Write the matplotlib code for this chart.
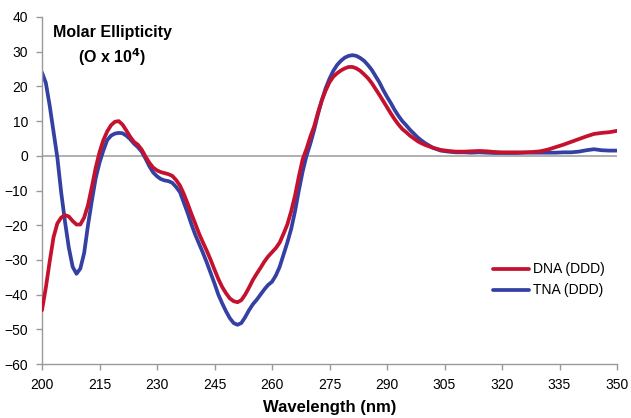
import matplotlib
matplotlib.use("Agg")
import matplotlib.pyplot as plt
import numpy as np

plt.rcParams['font.family'] = ['Liberation Sans', 'DejaVu Sans']

wl_fine = list(range(200, 301))
wl_tail = list(range(302, 351, 2))
wavelength = wl_fine + wl_tail

dna_fine = [-44.5, -38, -30.5, -23.5, -19.5, -17.8, -17.1, -17.5, -18.8, -19.8,
            -19.8, -17.8, -14.2, -9, -3.5, 1, 4.5, 7, 8.8, 9.8,
            10, 9, 7.3, 5.5, 4, 3.2, 1.8, -0.2, -2, -3.4,
            -4.2, -4.7, -5, -5.3, -5.8, -7, -8.6, -11, -13.8, -16.8,
            -19.6, -22.5, -25, -27.4, -30, -32.8, -35.5, -37.8, -39.6, -41.1,
            -41.9, -42.2, -41.6, -40, -38, -35.8, -34, -32.3, -30.5, -29,
            -27.8, -26.6, -25, -22.5, -19.8, -16, -11.5, -6, -1, 2,
            5.5, 8.5, 12.5, 16, 18.8, 21.2, 22.8, 23.8, 24.6, 25.2,
            25.6, 25.6, 25.2, 24.5, 23.5, 22.4, 21, 19.3, 17.6, 15.8,
            14, 12.2, 10.5, 9, 7.7, 6.8, 5.8, 5, 4.2, 3.6,
            3.1]
dna_tail = [2.3, 1.7, 1.4, 1.2, 1.2, 1.3, 1.4, 1.3, 1.1, 1.0,
            1.0, 1.0, 1.0, 1.1, 1.3, 1.8, 2.5, 3.2, 4.0, 4.8,
            5.6, 6.3, 6.6, 6.8, 7.2]
dna = dna_fine + dna_tail

tna_fine = [24, 21, 14.5, 7, -0.5, -10.5, -19, -26.5, -32, -34,
            -32.5, -28, -20, -13, -6.5, -2, 1.5, 4.5, 5.8, 6.4,
            6.6, 6.5, 5.8, 4.8, 3.5, 2.5, 1.2, -0.8, -3, -4.8,
            -5.9, -6.7, -7.1, -7.3, -7.8, -9, -10.5, -13.5, -16.5, -19.8,
            -22.8, -25.4, -28, -30.8, -33.8, -36.8, -40, -42.5, -44.8, -46.8,
            -48.2, -48.7, -48.2, -46.5, -44.5, -42.8, -41.5, -40, -38.5, -37.2,
            -36.3, -34.5, -32, -28.5, -25, -21.1, -16, -10, -4.5, 0,
            3.5, 7.5, 12, 16, 19.5, 22.2, 24.5, 26.2, 27.4, 28.3,
            28.8, 29, 28.8, 28.2, 27.4, 26.2, 24.8, 23, 21.2, 19,
            17, 15.2, 13.2, 11.5, 10, 8.8, 7.5, 6.4, 5.3, 4.4,
            3.6]
tna_tail = [2.3, 1.5, 1.2, 1.0, 1.0, 0.9, 1.0, 0.9, 0.8, 0.8,
            0.8, 0.8, 0.9, 0.9, 0.9, 0.9, 0.9, 1.0, 1.0, 1.2,
            1.6, 1.9, 1.6, 1.5, 1.5]
tna = tna_fine + tna_tail

xticks = list(range(200, 351, 15))
yticks = list(range(-60, 41, 10))

fig = plt.figure(figsize=(6.31, 4.18), dpi=100)
ax = fig.add_axes([42/631, 1-364/418, (617-42)/631, (364-17)/418])

ax.axhline(0, color='#aaaaaa', lw=1.3, zorder=1)
ax.plot(wavelength, dna, color='#c4122e', lw=2.7, label='DNA (DDD)', zorder=3,
        solid_joinstyle='round', solid_capstyle='round')
ax.plot(wavelength, tna, color='#3441a3', lw=2.7, label='TNA (DDD)', zorder=2,
        solid_joinstyle='round', solid_capstyle='round')

ax.set_xlim(200, 350)
ax.set_ylim(-60, 40)
ax.set_xticks(xticks)
ax.set_yticks(yticks)
ax.tick_params(axis='both', direction='out', length=4, width=1, color='#999999',
               labelsize=10, labelcolor='black', pad=6)
for s in ['top', 'right']:
    ax.spines[s].set_visible(False)
for s in ['left', 'bottom']:
    ax.spines[s].set_color('#999999')
    ax.spines[s].set_linewidth(1)

ax.set_xlabel('Wavelength (nm)', fontsize=12, fontweight='bold', labelpad=6)

fig.text(112/631, 1-32/418, 'Molar Ellipticity', ha='center', va='center',
         fontsize=11.5, fontweight='bold')
fig.text(112/631, 1-57/418, r'(O x 10$^{\mathbf{4}}$)', ha='center', va='center',
         fontsize=11.5, fontweight='bold')

leg = ax.legend(loc='upper left', bbox_to_anchor=(480/631, 1-250/418),
                bbox_transform=fig.transFigure, frameon=False, fontsize=10,
                handlelength=2.6, handletextpad=0.3, labelspacing=0.5)

fig.savefig('out.png', dpi=100)
